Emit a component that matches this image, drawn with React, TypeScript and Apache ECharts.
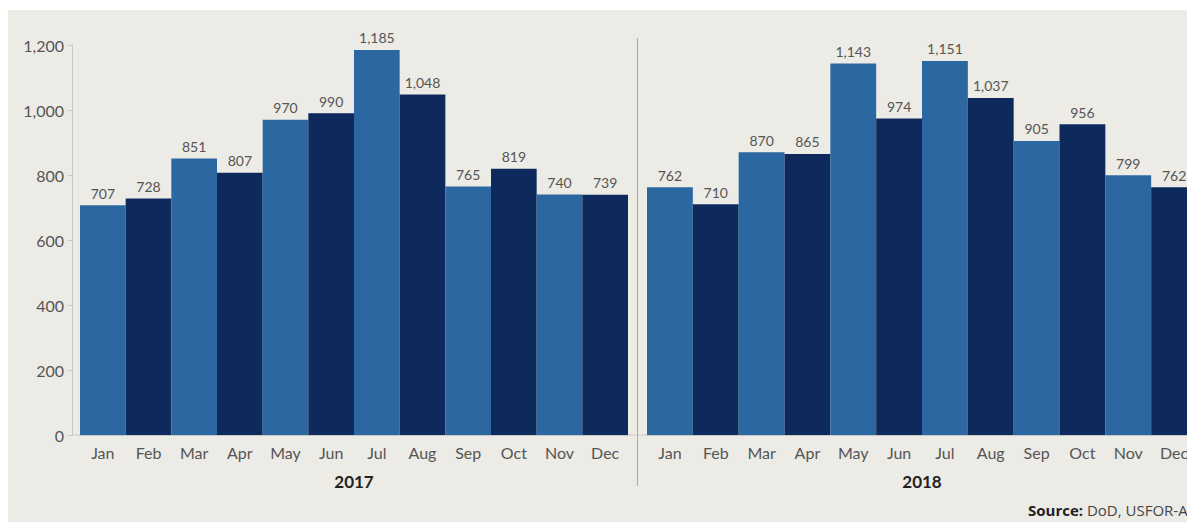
import React, { useEffect, useRef } from "react";
import * as echarts from "echarts";

const months = ["Jan", "Feb", "Mar", "Apr", "May", "Jun", "Jul", "Aug", "Sep", "Oct", "Nov", "Dec"];
const values2017 = [707, 728, 851, 807, 970, 990, 1185, 1048, 765, 819, 740, 739];
const values2018 = [762, 710, 870, 865, 1143, 974, 1151, 1037, 905, 956, 799, 762];
const yearLabels = ["2017", "2018"];
const yTicks = { min: 0, max: 1200, interval: 200 };

const LIGHT = "#2b68a2";
const DARK = "#0e2a5c";
const FONT = "Lato, 'Noto Sans', sans-serif";

export default function App() {
  const ref = useRef<HTMLDivElement>(null);
  useEffect(() => {
    if (!ref.current) return;
    const chart = echarts.init(ref.current, null, { renderer: "svg" });
    const barColor = (p: any) => (p.dataIndex % 2 === 0 ? LIGHT : DARK);
    const xAxisBase = (gridIndex: number, name: string) => ({
      type: "category",
      gridIndex,
      data: months,
      boundaryGap: true,
      name,
      nameLocation: "middle",
      nameGap: 38,
      nameTextStyle: { fontFamily: FONT, fontSize: 17, fontWeight: "bold", color: "#222" },
      axisLine: { show: true, lineStyle: { color: "#c8c8c8", width: 1 } },
      axisTick: { show: false },
      axisLabel: { fontFamily: FONT, fontSize: 16, color: "#555", margin: 9, interval: 0 },
    });
    const series = (values: number[], idx: number) => ({
      type: "bar",
      xAxisIndex: idx,
      yAxisIndex: idx,
      data: values,
      barCategoryGap: "0%",
      itemStyle: { color: barColor },
      label: {
        show: true,
        position: "top",
        distance: 5,
        fontFamily: FONT,
        fontSize: 14,
        color: "#555",
        formatter: (p: any) => Number(p.value).toLocaleString("en-US"),
      },
    });
    chart.setOption({
      animation: false,
      backgroundColor: "#ffffff",
      grid: [
        { left: 80, width: 548, top: 45, height: 390, outerBoundsMode: "none", containLabel: false },
        { left: 647, width: 550, top: 45, height: 390, outerBoundsMode: "none", containLabel: false },
      ],
      xAxis: [xAxisBase(0, yearLabels[0]), xAxisBase(1, yearLabels[1])],
      yAxis: [
        {
          type: "value",
          gridIndex: 0,
          ...yTicks,
          offset: 8,
          axisLine: { show: true, lineStyle: { color: "#c8c8c8" } },
          axisTick: { show: true, length: 4, lineStyle: { color: "#c8c8c8" } },
          splitLine: { show: false },
          axisLabel: {
            fontFamily: FONT,
            fontSize: 16,
            color: "#555",
            margin: 8,
            formatter: (v: number) => v.toLocaleString("en-US"),
          },
        },
        {
          type: "value",
          gridIndex: 1,
          ...yTicks,
          show: false,
          splitLine: { show: false },
        },
      ],
      graphic: [
        {
          type: "rect",
          z: -10,
          silent: true,
          shape: { x: 8, y: 10, width: 1179, height: 512 },
          style: { fill: "#ecebe6" },
        },
        {
          type: "line",
          silent: true,
          shape: { x1: 72, y1: 435, x2: 647, y2: 435 },
          style: { stroke: "#c8c8c8", lineWidth: 1 },
        },
        {
          type: "line",
          silent: true,
          shape: { x1: 637.5, y1: 38, x2: 637.5, y2: 486 },
          style: { stroke: "#aaaaaa", lineWidth: 1 },
        },
        {
          type: "text",
          silent: true,
          x: 1028,
          y: 502,
          style: {
            text: "{b|Source:} DoD, USFOR-A",
            fontFamily: "'Open Sans', sans-serif",
            fontSize: 15,
            fill: "#444",
            rich: {
              b: { fontFamily: "'Open Sans', sans-serif", fontSize: 15, fontWeight: "bold", fill: "#222" },
            },
          },
        },
      ],
      series: [series(values2017, 0), series(values2018, 1)],
    });
    return () => chart.dispose();
  }, []);
  return (
    <div
      ref={ref}
      style={{ position: "fixed", left: 0, top: 0, width: 1187, height: 525 }}
    />
  );
}
